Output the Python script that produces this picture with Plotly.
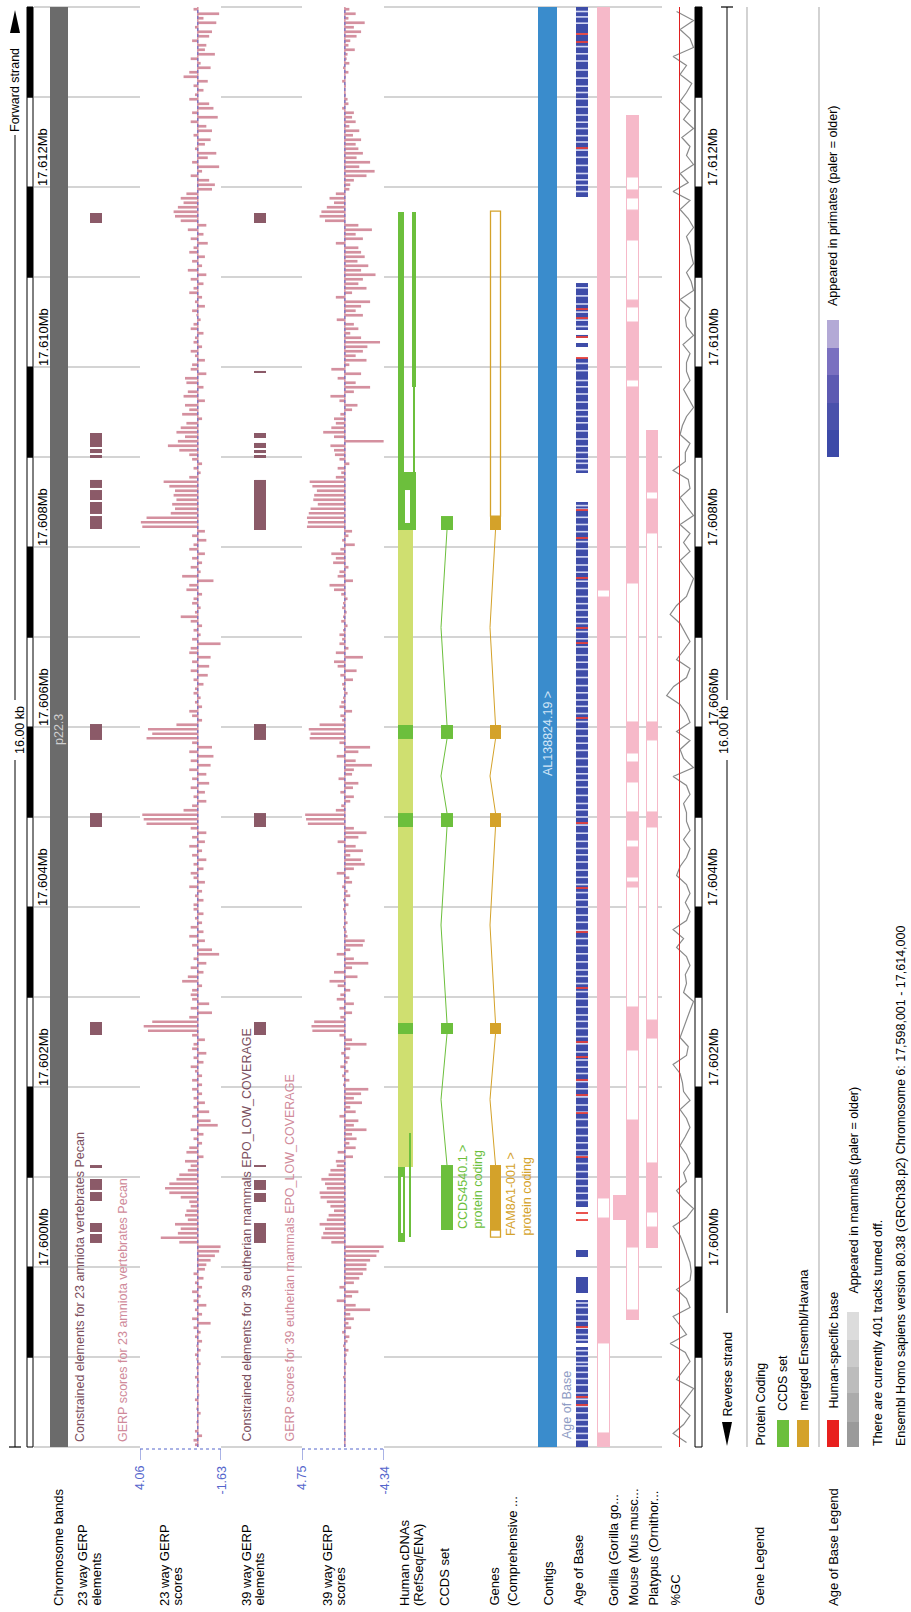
import plotly.graph_objects as go

# ---------------- canvas / scale ----------------
W, H = 911, 1612
TOP_PX, BOT_PX = 7, 1447          # genomic window top / bottom in pixels
KB_PX = 90.0                      # pixels per kb
REGION_START = 17598000           # chromosome 6 bp at bottom of view
SPAN = 16000                      # bp shown
Y_MAX = SPAN + TOP_PX * 1000 / KB_PX
Y_MIN = -(H - BOT_PX) * 1000 / KB_PX
FONT = "Liberation Sans, Arial, sans-serif"

# ---------------- data (bp offsets from 17,598,000) ----------------
ruler_labels = ["17.600Mb", "17.602Mb", "17.604Mb", "17.606Mb", "17.608Mb", "17.610Mb", "17.612Mb"]
ruler_label_pos = [2000, 4000, 6000, 8000, 10000, 12000, 14000]

gerp23_elements = [(13600, 13711), (11111, 11267), (11044, 11089), (10989, 11022), (10656, 10745),
                   (10522, 10633), (10367, 10500), (10200, 10344), (7856, 8033), (6889, 7044),
                   (4578, 4722), (3100, 3133), (2856, 2978), (2733, 2833), (2389, 2489), (2267, 2367)]
gerp39_elements = [(13600, 13711), (11933, 11956), (11211, 11267), (11100, 11156), (11044, 11078),
                   (10989, 11022), (10189, 10745), (7856, 8033), (6889, 7044), (4578, 4722),
                   (3111, 3133), (2856, 2967), (2722, 2822), (2267, 2489)]

# GERP scores, 50 bp bins, listed from the top of the view (17.614 Mb) downwards
gerp23_scores = [
    0.3, -1.5, -0.4, -1.3, 0.2, -1.0, -0.8, 0.4, -0.6, -0.5, -1.2, 0.5, -0.2, -0.9, 0.6, 1.0, -0.7, 0.3, -0.4, 0.2,
    0.6, -0.8, -1.1, 0.4, -1.4, 0.5, -0.6, -1.0, 0.3, -0.9, -0.5, 0.2, -1.3, -0.7, 0.4, -1.5, -0.3, 0.5, -0.8, -1.2,
    -1.0, 0.8, 1.2, 1.0, 1.4, 1.7, 1.6, 1.2, -0.6, 0.7, -0.4, 0.5, -0.7, 0.3, 0.6, -0.5, 0.4, -0.3, 0.7, -0.6,
    0.5, -0.4, 0.3, 0.6, -0.3, 0.2, -0.5, 0.4, 0.1, -0.2, 0.3, 0.5, -0.4, 0.2, 0.3, -0.3, 0.5, 0.2, -0.5, 0.4,
    0.5, -0.6, 0.9, 0.8, -0.4, 0.7, 1.0, -0.5, 0.9, 0.6, 1.1, -0.3, 0.8, 1.2, 1.5, 0.9, 1.4, 2.1, 1.3, 0.6,
    0.4, -0.3, 0.3, -0.2, 0.6, 2.4, 2.0, 1.6, 1.7, 1.5, 1.8, 1.6, 1.9, 3.6, 4.0, 3.9, -0.5, 0.4, -0.6, 0.3,
    0.6, -0.5, 0.4, -0.3, 0.5, -0.2, 1.1, -1.1, 0.6, 0.8, -0.3, 0.3, 0.4, -0.2, 0.2, 1.2, 0.5, -0.3, 0.3, -0.2,
    0.4, -1.6, 0.5, 0.6, -0.9, 0.4, -0.8, 0.5, -0.7, 0.3, -0.4, 0.2, 0.3, -0.2, 0.2, -0.3, 0.6, 0.4, -0.3, 1.5,
    3.5, 3.2, 3.6, 0.4, -1.0, 0.6, -1.1, 0.5, -0.9, 0.6, -0.6, 0.4, -0.8, 0.5, -0.5, 0.3, -0.6, 0.4, 1.0, 3.9,
    3.8, 3.6, 0.5, -0.6, 0.4, -0.5, 0.6, -0.3, 0.4, -0.6, 0.3, -0.4, 0.5, 0.3, -0.5, 0.6, -0.3, 0.2, -0.4, 0.3,
    0.3, -0.4, 0.2, -0.3, 0.5, -0.4, 0.6, -0.5, 0.4, -1.0, -1.5, 0.3, -0.6, 0.5, -0.4, 0.7, 1.1, -0.3, 0.4, 0.5,
    0.4, -0.8, 0.5, -1.0, 0.6, 3.2, 3.8, 3.5, 0.4, -0.5, 0.3, 0.4, -0.6, 0.3, -0.4, 0.5, 0.2, -0.3, 0.4, -0.3,
    0.4, -0.3, 0.3, -0.5, 0.3, -0.8, 0.4, -0.9, -1.4, 0.5, -0.4, 0.3, -0.3, 0.6, 0.8, -0.4, 0.9, 0.5, 0.7, 1.3,
    1.5, 2.0, 2.3, 2.0, 1.2, 0.6, 0.5, 0.8, 0.9, 0.7, 1.6, 1.2, 1.4, 2.6, 1.3, -1.6, -1.5, -1.2, -0.9, -0.6,
    -0.5, 0.3, -0.4, 0.2, -0.3, 0.4, -0.2, 0.3, -0.6, 0.2, -0.3, 0.4, -0.9, 0.3, -0.2, 0.2, -0.3, 0.1, -0.2, 0.2,
    0.1, -0.2, 0.1, 0.0, 0.2, -0.1, 0.1, 0.0, -0.1, 0.2, 0.0, 0.1, -0.2, 0.0, 0.1, 0.0, 0.2, -0.3, 0.3, 0.2,
]
gerp39_scores = [
    -0.5, -1.2, -0.4, -2.2, -1.0, -1.8, -1.3, -0.6, -0.4, -1.1, -0.3, -0.2, -0.5, 0.2, -0.4, -0.1, 0.3, -0.1, 0.0, -0.1,
    -0.3, -0.4, 0.3, -1.0, -0.8, -1.2, -0.5, -1.6, -0.9, -1.8, -1.2, -1.5, -2.0, -1.3, -2.8, -1.6, -3.3, -2.4, -1.0, -0.6,
    -0.5, 1.0, 1.7, 1.2, 2.0, 2.6, 2.8, 2.2, -1.5, -3.0, -1.2, -2.0, 1.0, -1.5, -1.8, -2.2, -1.4, -2.6, -1.8, -3.4,
    -2.0, -1.5, -2.4, -0.8, 1.0, -2.8, -1.8, -1.2, -2.0, 0.9, -1.0, -1.5, -0.6, -1.8, -3.9, -2.5, -2.0, -1.2, -2.4, -0.5,
    1.5, -1.8, 0.8, -1.2, -2.8, -1.0, 1.6, 0.6, -1.4, -0.8, 0.5, 1.2, 1.0, 1.5, 2.4, 1.2, -4.3, 1.6, 1.2, 1.1,
    0.6, -0.5, 0.8, 0.4, 1.0, 3.9, 3.6, 3.1, 3.4, 3.5, 3.0, 3.8, 4.0, 4.2, 4.1, 4.2, -0.8, -0.4, 0.3, -1.1,
    0.5, 1.5, 1.0, 1.3, -0.4, 0.6, 0.8, -0.9, 1.7, 1.2, 0.4, -0.3, 0.2, 0.3, -0.2, 0.2, 0.4, -0.3, 0.2, 0.6,
    0.3, 0.6, -0.4, 1.0, -2.0, 1.2, 0.8, -1.3, 0.5, -0.9, 0.3, 0.2, -0.3, 0.2, 0.4, 0.6, -0.8, 0.5, 0.3, 2.8,
    4.0, 3.8, 3.9, 0.6, -2.8, -1.5, 0.9, -1.2, -3.0, -1.0, -0.8, 0.7, -1.5, -0.9, 0.5, -1.0, -0.6, 0.4, 1.0, 4.4,
    4.3, 4.1, -1.0, -2.4, -1.5, 0.8, -1.2, -2.0, -0.6, -1.8, -2.2, -1.0, 0.9, -0.5, -0.8, 0.3, -0.3, -0.6, 0.2, -0.4,
    0.2, -0.2, 0.1, -0.3, 0.2, -0.2, -0.3, -2.2, -2.0, -0.6, 0.9, -1.0, -2.6, -0.8, 1.2, -1.4, 1.7, 0.8, -0.6, 0.5,
    0.9, -1.0, 0.6, -0.8, 0.5, 3.4, 3.7, 3.6, 0.6, -0.8, -2.4, -0.6, 0.4, -0.5, -0.3, 0.5, -0.4, 0.3, -0.5, 0.2,
    -2.6, -1.8, -1.0, -1.9, -0.6, -1.2, 0.6, -1.5, -1.0, -2.4, -0.8, -1.3, -0.5, -1.2, 0.8, -0.9, 1.0, 0.9, 1.6, 1.8,
    2.6, 2.2, 2.0, 2.8, 2.7, 2.0, 1.6, 1.2, 1.8, 2.0, 2.8, 2.2, 2.4, 2.6, 1.5, -4.3, -3.8, -3.5, -2.8, -2.4,
    -2.4, -2.0, -1.6, -1.0, 0.6, -1.5, -0.8, 0.9, -1.2, -2.8, -0.6, -1.0, -0.4, -0.7, 0.3, -0.5, -0.3, 0.2, -0.4, -0.2,
    0.1, -0.2, 0.1, -0.1, 0.2, -0.1, 0.1, 0.0, -0.1, 0.1, 0.0, 0.1, -0.1, 0.0, 0.1, 0.0, 0.1, -0.1, 0.1, 0.0,
]
GERP_BIN = 50

# %GC, 100 bp windows from the top of the view downwards
gc_percent = [
    55, 26, 49, 32, 26, 61, 38, 49, 29, 38,
    49, 32, 43, 26, 46, 32, 38, 26, 49, 35,
    61, 32, 49, 35, 26, 38, 32, 30, 26, 38,
    30, 26, 49, 32, 40, 38, 26, 44, 32, 38,
    38, 32, 43, 35, 26, 38, 45, 49, 32, 40,
    40, 61, 35, 32, 49, 38, 26, 49, 32, 43,
    32, 49, 38, 26, 32, 38, 55, 66, 49, 40,
    32, 43, 55, 32, 38, 60, 72, 49, 38, 32,
    55, 32, 49, 43, 26, 61, 38, 32, 43, 38,
    38, 32, 43, 32, 38, 49, 55, 38, 32, 40,
    32, 38, 61, 43, 55, 38, 32, 40, 38, 43,
    26, 32, 38, 43, 49, 35, 38, 61, 49, 45,
    43, 32, 49, 38, 32, 40, 49, 38, 32, 43,
    38, 55, 43, 26, 38, 61, 49, 43, 38, 32,
    30, 32, 55, 38, 32, 61, 49, 38, 66, 40,
    32, 43, 55, 26, 38, 49, 32, 43, 61, 38,
]
GC_BIN = 100

# transcripts
ccds_exons = [(10189, 10344), (7867, 8022), (6889, 7044), (4589, 4711), (2411, 3133)]
gene_exons = [(10189, 10344), (7867, 8022), (6889, 7044), (4589, 4711), (2411, 3133)]
gene_utr = [(10344, 13733), (2333, 2411)]
cdna_row_a = [(10833, 13722), (2278, 3111)]
cdna_row_b = [(11778, 13722)]
cdna_row_b_thin = [(10833, 11778), (2333, 3489)]
cdna_merged = [(10189, 10833)]
cdna_gaps = [(10267, 10633), (2378, 3000)]
cdna_light = [(3111, 10189)]
cdna_exons = [(7867, 8022), (6889, 7044), (4589, 4711)]

contig = [(0, 16000)]

# age of base
aob_covered = [(13889, 16000), (12411, 12933), (12322, 12356), (12222, 12267), (10822, 12100),
               (2667, 10500), (2111, 2189), (1711, 1889), (1156, 1633), (0, 1111)]
aob_light = [15950, 15890, 15820, 15700, 15560, 15480, 15400, 15300, 15210, 15120, 15050, 14980, 14890,
             14800, 14720, 14650, 14570, 14500, 14410, 14330, 14240, 14150, 14080, 14020, 13950,
             12880, 12790, 12700, 12610, 12520, 12450,
             12040, 11960, 11850, 11780, 11700, 11610, 11520, 11450, 11380, 11290, 11200, 11120, 11050,
             10980, 10930, 10860,
             10460, 10420, 10330, 10250, 10170, 10060, 9980, 9890, 9800, 9720, 9620, 9540, 9450, 9370,
             9300, 9220, 9150, 9060, 8980, 8890, 8800, 8720, 8640, 8550, 8460, 8380, 8300, 8230, 8150,
             8060, 7980, 7900, 7820, 7740, 7650, 7560, 7480, 7410, 7330, 7240, 7150, 7080, 7000, 6910,
             6820, 6730, 6650, 6580, 6500, 6410, 6330, 6250, 6160, 6080, 6000, 5910, 5830, 5740, 5650,
             5570, 5480, 5390, 5300, 5230, 5150, 5060, 4980, 4890, 4800, 4730, 4650, 4560, 4480, 4390,
             4300, 4220, 4150, 4060, 3980, 3890, 3800, 3720, 3640, 3550, 3460, 3380, 3300, 3230, 3150,
             3060, 2980, 2900, 2820, 2740,
             1600, 1550, 1470, 1400, 1320, 1250, 1190,
             1070, 1010, 940, 900, 830, 760, 690, 600, 530, 450, 380, 300, 230, 150, 80]
aob_human = [15700, 15611, 14433, 12644, 12544, 12333, 12100, 10411, 10100, 9656, 9100, 8933, 8100,
             6933, 6211, 5722, 5100, 4500, 4333, 4078, 3911, 3711, 3222, 2600, 2522, 1333, 556, 467]

# whole-genome alignments
gorilla_blocks = [(0, 156), (1156, 2544), (2767, 9444), (9522, 16000)]
gorilla_gaps = [(9444, 9522), (2544, 2767), (156, 1156)]
mouse_blocks = [(14111, 14800), (13878, 13967), (13411, 13744), (12667, 12744), (11856, 12500),
                (9600, 11778), (7711, 8056), (7389, 7611), (6744, 7056), (6333, 6667), (6222, 6278),
                (4411, 4889), (2222, 3633), (1411, 1522)]
mouse_gaps = [(13967, 14111), (13744, 13878), (12744, 13411), (12500, 12667), (11778, 11856),
              (8056, 9600), (7611, 7711), (7056, 7389), (6667, 6744), (6278, 6333), (4889, 6222),
              (3633, 4411), (1522, 2222)]
mouse_row2 = [(2522, 2800)]
platypus_blocks = [(10611, 11300), (10156, 10533), (7856, 8056), (6889, 7056), (4544, 4744),
                   (2611, 3156), (2211, 2444)]
platypus_gaps = [(10533, 10611), (8056, 10156), (7056, 7856), (4744, 6889), (3156, 4544), (2444, 2611)]

track_labels = [
    ("Chromosome bands", 58), ("23 way GERP", 82), ("elements", 96), ("23 way GERP", 164), ("scores", 177),
    ("39 way GERP", 246), ("elements", 259), ("39 way GERP", 327), ("scores", 340),
    ("Human cDNAs", 404), ("(RefSeq/ENA)", 418), ("CCDS set", 444), ("Genes", 494),
    ("(Comprehensive ...", 512), ("Contigs", 548), ("Age of Base", 578), ("Gorilla (Gorilla go...", 613),
    ("Mouse (Mus musc...", 633), ("Platypus (Ornithor...", 653), ("%GC", 675),
    ("Gene Legend", 759), ("Age of Base Legend", 833),
]

# ---------------- lanes (pixel x) & colours ----------------
L = dict(band=(50, 68), e23=(90, 102), e39=(254, 266), cdna_a=(398, 404), cdna_b=(412, 416),
         cdna_b_thin=(409, 411), cdna_wide=(398, 416), cdna_light=(398, 413), cdna_gap=(405, 410),
         ccds=(441, 453), gene=(490, 501), contig=(538, 557), aob=(576, 588), gorilla=(597, 610),
         mouse=(626, 639), mouse2=(613, 626), platypus=(646, 658), ruler_l=(27, 33), ruler_r=(695, 702))
C_ELEM = "#8b5a68"
C_SCORE = "#d4909f"
C_GREEN = "#6cbf3c"
C_LIGHTGREEN = "#cfdf70"
C_GOLD = "#d4a22a"
C_CONTIG = "#3a8ccc"
C_AOB = "#3e4ca8"
C_PINK = "#f6b9c9"
C_GRID = "#d4d4d4"


def py(px):
    return 1 - px / H


def offp(px):
    return SPAN - (px - TOP_PX) * 1000 / KB_PX


shapes = []
ann = []


def rect(lane, y0, y1, fill, line=None, lw=0, layer="above", xref="x"):
    x0, x1 = lane
    shapes.append(dict(type="rect", xref=xref, yref="y", x0=x0, x1=x1, y0=y0, y1=y1,
                       fillcolor=fill, line=dict(color=line or fill, width=lw), layer=layer))


def vline(x, y0, y1, color, width=1, dash="solid", xref="x", yref="y", layer="above"):
    shapes.append(dict(type="line", xref=xref, yref=yref, x0=x, x1=x, y0=y0, y1=y1,
                       line=dict(color=color, width=width, dash=dash), layer=layer))


def hline(x0, x1, y, color, width=1, dash="solid", xref="x", yref="y", layer="above"):
    shapes.append(dict(type="line", xref=xref, yref=yref, x0=x0, x1=x1, y0=y, y1=y,
                       line=dict(color=color, width=width, dash=dash), layer=layer))


def vtext(x, ypx, text, size=12.5, color="#000", yanchor="bottom", xref="x"):
    ann.append(dict(x=x, y=py(ypx), xref=xref, yref="paper", text=text, textangle=-90,
                    showarrow=False, xanchor="center", yanchor=yanchor, borderpad=0,
                    font=dict(family=FONT, size=size, color=color)))


# ---------------- background grid ----------------
for k in range(0, SPAN + 1, 1000):
    hline(34, 695, k, C_GRID, 2, layer="below")
for x in (143, 182, 303):
    vline(x, 0, SPAN, "#e2e2e2", 1, dash="dot", layer="below")

# rulers
for side in ("ruler_l", "ruler_r"):
    for k in range(16):
        rect(L[side], k * 1000, (k + 1) * 1000, "#000000" if k % 2 else "#ffffff", "#000000", 1)
for lab, pos in zip(ruler_labels, ruler_label_pos):
    vtext(43, TOP_PX + (SPAN - pos) * KB_PX / 1000, lab, 13)
    vtext(713, TOP_PX + (SPAN - pos) * KB_PX / 1000, lab, 13)

# strand lines
vline(15, offp(135), offp(700), "#000", 1)
vline(15, offp(760), 0, "#000", 1)
hline(9, 21, 0, "#000", 1.2)
shapes.append(dict(type="path", xref="x", yref="y",
                   path=f"M 10 {offp(33)} L 20 {offp(33)} L 15 {offp(10)} Z", fillcolor="#000",
                   line=dict(width=0)))
vtext(15, 133, "Forward strand", 12.5)
vtext(20, 730, "16.00 kb", 12.5, yanchor="middle")
vline(727, SPAN, offp(700), "#000", 1)
vline(727, offp(760), offp(1313), "#000", 1)
hline(721, 733, SPAN, "#000", 1.2)
shapes.append(dict(type="path", xref="x", yref="y",
                   path=f"M 722 {offp(1422)} L 732 {offp(1422)} L 727 {offp(1446)} Z", fillcolor="#000",
                   line=dict(width=0)))
vtext(724, 730, "16.00 kb", 12.5, yanchor="middle")
vtext(727, 1418, "Reverse strand", 12.5)

# chromosome band
rect(L["band"], 0, SPAN, "#6b6b6b")
vtext(59, 730, "p22.3", 12.5, "#d0d0d0", yanchor="middle")

# GERP elements
for s, e in gerp23_elements:
    rect(L["e23"], s, e, C_ELEM)
for s, e in gerp39_elements:
    rect(L["e39"], s, e, C_ELEM)
vtext(80, 1443, "Constrained elements for 23 amniota vertebrates Pecan", 12.5, "#7b4f5e")
vtext(123, 1443, "GERP scores for 23 amniota vertebrates Pecan", 12.5, "#d08a9a")
vtext(246, 1443, "Constrained elements for 39 eutherian mammals EPO_LOW_COVERAGE", 12.5, "#7b4f5e")
vtext(289, 1443, "GERP scores for 39 eutherian mammals EPO_LOW_COVERAGE", 12.5, "#d08a9a")

# GERP score baselines
for xr in ("x2", "x3"):
    vline(0, 0, SPAN, C_SCORE, 1.5, xref=xr)
    vline(0, 0, SPAN, "#5a6ad0", 1, dash="dot", xref=xr)

# GERP axis ticks at bottom
for xr, lo, hi in (("x2", 4.06, -1.63), ("x3", 4.75, -4.34)):
    hline(lo, hi, py(1449), "#5566cc", 1, dash="dot", xref=xr, yref="paper")
    for v in (lo, hi):
        vline(v, py(1449), py(1460), "#5566cc", 1, xref=xr, yref="paper")
        vtext(v, 1465, f"{v:.2f}", 12.5, "#5566cc", yanchor="top", xref=xr)

# cDNAs
for s, e in cdna_light:
    rect(L["cdna_light"], s, e, C_LIGHTGREEN)
for s, e in cdna_exons:
    rect(L["cdna_light"], s, e, C_GREEN)
for s, e in cdna_row_a:
    rect((L["cdna_a"][0], L["cdna_a"][1] + (1 if s < 5000 else 0)), s, e, C_GREEN)
for s, e in cdna_row_b:
    rect(L["cdna_b"], s, e, C_GREEN)
for s, e in cdna_row_b_thin:
    rect(L["cdna_b_thin"] if s < 5000 else (413, 415), s, e, C_GREEN)
for s, e in cdna_merged:
    rect(L["cdna_wide"], s, e, C_GREEN)
for s, e in cdna_gaps:
    rect(L["cdna_gap"] if s > 5000 else (401, 403), s, e, "#ffffff")


# CCDS & gene models
def draw_model(exons, lane, color):
    cx = (lane[0] + lane[1]) / 2
    peak = lane[0]
    ex = sorted(exons, key=lambda t: -t[0])
    for i in range(len(ex) - 1):
        y_a = ex[i][0]
        y_b = ex[i + 1][1]
        shapes.append(dict(type="path", xref="x", yref="y",
                           path=f"M {cx} {y_a} L {peak} {(y_a + y_b) / 2} L {cx} {y_b}",
                           line=dict(color=color, width=1)))
    for s, e in ex:
        rect(lane, s, e, color)


draw_model(ccds_exons, L["ccds"], C_GREEN)
draw_model(gene_exons, L["gene"], C_GOLD)
for s, e in gene_utr:
    rect((L["gene"][0] + 0.5, L["gene"][1] - 0.5), s, e, "rgba(255,255,255,0)", C_GOLD, 1.3)
vtext(463, 1230, "CCDS4540.1 &gt;", 12.5, C_GREEN)
vtext(477, 1230, "protein coding", 12.5, C_GREEN)
vtext(511, 1237, "FAM8A1-001 &gt;", 12.5, C_GOLD)
vtext(526, 1237, "protein coding", 12.5, C_GOLD)

# contig
for s, e in contig:
    rect(L["contig"], s, e, C_CONTIG)
vtext(548, 734, "AL138824.19 &gt;", 12.5, "#d2e6f7", yanchor="middle")

# age of base
for s, e in aob_covered:
    rect(L["aob"], s, e, C_AOB)
for p in aob_light:
    rect(L["aob"], p - 9, p + 9, "rgba(225,228,250,0.92)")
for p in aob_human:
    rect(L["aob"], p - 10, p + 10, "#e8403a")
vtext(567, 1440, "Age of Base", 12.5, "#8e9cc4")

# alignments
for s, e in gorilla_blocks:
    rect(L["gorilla"], s, e, C_PINK)
for s, e in gorilla_gaps:
    rect((L["gorilla"][0] + 0.5, L["gorilla"][1] - 0.5), s, e, "#ffffff", C_PINK, 1)
for s, e in mouse_blocks:
    rect(L["mouse"], s, e, C_PINK)
for s, e in mouse_gaps:
    rect((L["mouse"][0] + 0.5, L["mouse"][1] - 0.5), s, e, "#ffffff", C_PINK, 1)
for s, e in mouse_row2:
    rect(L["mouse2"], s, e, C_PINK)
for s, e in platypus_blocks:
    rect(L["platypus"], s, e, C_PINK)
for s, e in platypus_gaps:
    rect((L["platypus"][0] + 0.5, L["platypus"][1] - 0.5), s, e, "#ffffff", C_PINK, 1)

# %GC reference line
vline(50, 0, SPAN, "#e02020", 1, xref="x4")

# legend separators
vline(747, 0, SPAN, "#b5b5b5", 1.2)
vline(819, 0, SPAN, "#b5b5b5", 1.2)


def legend_box(x0, x1, y0px, y1px, color):
    shapes.append(dict(type="rect", xref="x", yref="paper", x0=x0, x1=x1, y0=py(y1px), y1=py(y0px),
                       fillcolor=color, line=dict(width=0)))


vtext(760, 1447, "Protein Coding", 12.5)
legend_box(777, 789, 1420, 1447, C_GREEN)
vtext(783, 1412, "CCDS set", 12.5)
legend_box(797, 809, 1420, 1447, C_GOLD)
vtext(803, 1412, "merged Ensembl/Havana", 12.5)
legend_box(827, 839, 1420, 1447, "#e8201e")
vtext(833, 1410, "Human-specific base", 12.5)
grays = ["#9a9a9a", "#ababab", "#bcbcbc", "#cbcbcb", "#dcdcdc"]
gy = [1447, 1422, 1393, 1367, 1340, 1312]
for i, c in enumerate(grays):
    legend_box(847, 859, gy[i + 1], gy[i], c)
vtext(853, 1295, "Appeared in mammals (paler = older)", 12.5)
blues = ["#3c4aa8", "#4a51ab", "#5d5ab2", "#7a70c0", "#b3a9d6"]
by = [457, 430, 403, 375, 348, 320]
for i, c in enumerate(blues):
    legend_box(827, 839, by[i + 1], by[i], c)
vtext(833, 307, "Appeared in primates (paler = older)", 12.5)
vtext(878, 1447, "There are currently 401 tracks turned off.", 12.5)
vtext(901, 1447, "Ensembl Homo sapiens version 80.38 (GRCh38.p2) Chromosome 6: 17,598,001 - 17,614,000", 12.5)

# track labels
for text, x in track_labels:
    vtext(x, 1607, text, 13)

# ---------------- traces ----------------
gerp_pos = [SPAN - GERP_BIN / 2 - GERP_BIN * i for i in range(len(gerp23_scores))]
gc_pos = [SPAN - GC_BIN / 2 - GC_BIN * i for i in range(len(gc_percent))]

fig = go.Figure()
fig.add_trace(go.Bar(x=gerp23_scores, y=gerp_pos, orientation="h", width=30, xaxis="x2", yaxis="y",
                     marker=dict(color=C_SCORE, line=dict(width=0)), hoverinfo="skip", showlegend=False))
fig.add_trace(go.Bar(x=gerp39_scores, y=gerp_pos, orientation="h", width=30, xaxis="x3", yaxis="y",
                     marker=dict(color=C_SCORE, line=dict(width=0)), hoverinfo="skip", showlegend=False))
fig.add_trace(go.Scatter(x=gc_percent, y=gc_pos, mode="lines", xaxis="x4", yaxis="y",
                         line=dict(color="#8a8a8a", width=1.2), hoverinfo="skip", showlegend=False))

fig.update_layout(
    width=W, height=H, margin=dict(l=0, r=0, t=0, b=0),
    paper_bgcolor="white", plot_bgcolor="white", barmode="overlay",
    xaxis=dict(range=[0, W], domain=[0, 1], visible=False, fixedrange=True),
    yaxis=dict(range=[Y_MIN, Y_MAX], domain=[0, 1], visible=False, fixedrange=True),
    xaxis2=dict(domain=[140 / W, 221 / W], range=[4.06, -1.63], anchor="y", visible=False),
    xaxis3=dict(domain=[302 / W, 384 / W], range=[4.75, -4.34], anchor="y", visible=False),
    xaxis4=dict(domain=[662 / W, 697 / W], range=[80, 20], anchor="y", visible=False),
    shapes=shapes, annotations=ann, font=dict(family=FONT),
)
fig.write_html(
    "out.html",
    config={"displayModeBar": False, "staticPlot": True},
    post_script="document.body.style.margin='0';document.body.style.padding='0';"
                "document.body.style.overflow='hidden';",
)
